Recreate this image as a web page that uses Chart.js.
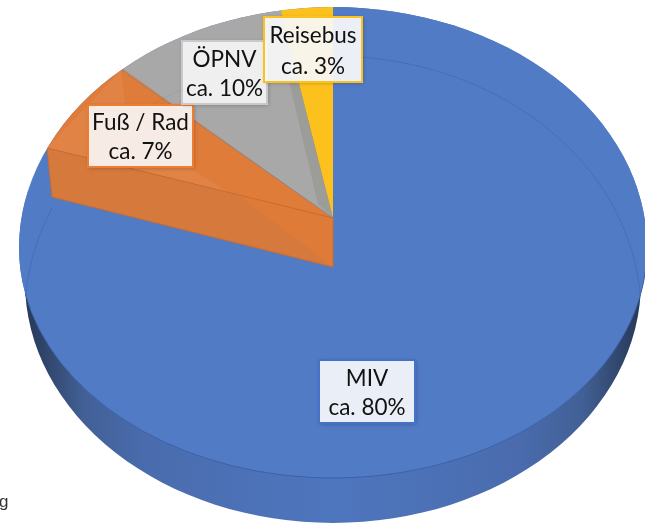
<!DOCTYPE html>
<html><head><meta charset="utf-8">
<style>html,body{margin:0;padding:0;background:#fff;overflow:hidden}canvas{display:block}</style>
<script src="https://cdn.jsdelivr.net/npm/chart.js@4"></script></head>
<body><canvas id="c" width="645" height="523"></canvas>
<script>
const categories = ['MIV', 'Fuß / Rad', 'ÖPNV', 'Reisebus'];
const shares = [80, 7, 10, 3];
const shareLabels = ['ca. 80%', 'ca. 7%', 'ca. 10%', 'ca. 3%'];
const sliceColors = ['#527BC6', '#E07C3A', '#A8A8A8', '#FDC11E'];
const boxFills = ['rgba(240,244,250,0.97)', 'rgba(250,241,235,0.97)', 'rgba(243,243,243,0.97)', 'rgba(255,255,255,0.9)'];
const boxBorders = ['#4472C4', '#ED7D31', '#C9C9C9', '#FDC11E'];
const boxRects = [[319,360,96,63],[88,105,105,62],[182,41,85,63],[264,17,98,65]];

const rimX = 333, rimY = 248, rimRx = 314, rimTop = 241, rimBot = 230;
function rimPath(ctx){
  ctx.beginPath();
  ctx.ellipse(rimX, rimY, rimRx, rimTop, 0, Math.PI, 2*Math.PI);
  ctx.ellipse(rimX, rimY, rimRx, rimBot, 0, 0, Math.PI);
  ctx.closePath();
}
function poly(ctx, pts, fill){
  ctx.beginPath();
  pts.forEach((p,i)=> i ? ctx.lineTo(p[0],p[1]) : ctx.moveTo(p[0],p[1]));
  ctx.closePath(); ctx.fillStyle = fill; ctx.fill();
}
function drawArc(ctx, arc, cx, cy, sx, sy){
  ctx.save();
  ctx.translate(cx, cy); ctx.scale(sx, sy); ctx.translate(-arc.x, -arc.y);
  arc.draw(ctx);
  ctx.restore();
}
const piePlugin = {
  id: 'tiltedPie',
  beforeDatasetDraw(chart, args){
    const ctx = chart.ctx;
    const arcs = chart.getDatasetMeta(args.index).data;
    const R = arcs[0].outerRadius;
    ctx.save();
    // side wall
    const g = ctx.createLinearGradient(25,0,641,0);
    g.addColorStop(0,'#27395A'); g.addColorStop(0.03,'#2F4468'); g.addColorStop(0.095,'#426096');
    g.addColorStop(0.2,'#4A6CAE'); g.addColorStop(0.5,'#4E76BE'); g.addColorStop(0.8,'#4A6CAE');
    g.addColorStop(0.905,'#426096'); g.addColorStop(0.97,'#2F4468'); g.addColorStop(1,'#27395A');
    ctx.beginPath(); ctx.ellipse(333, 282, 308, 241, 0, 0, Math.PI); ctx.closePath();
    ctx.fillStyle = g; ctx.fill();
    // top face
    rimPath(ctx); ctx.fillStyle = sliceColors[0]; ctx.fill();
    ctx.save(); rimPath(ctx); ctx.clip();
    drawArc(ctx, arcs[0], 333, 267, 420/R, 322/R);
    // orange cut wall
    poly(ctx, [[47,148],[333,218],[333,267],[52,197]], '#D5793C');
    poly(ctx, [[235,193],[333,218],[333,267]], '#DF7B38');
    // recessed slices
    drawArc(ctx, arcs[1], 333, 218, 400/R, 302/R);
    drawArc(ctx, arcs[2], 333, 218, 400/R, 302/R);
    poly(ctx, [[47,148],[121,70],[125,105],[193,170],[227,192]], 'rgba(255,255,255,0.06)');
    poly(ctx, [[288,77],[302,77],[333,218],[318,204]], 'rgba(110,110,90,0.2)');
    drawArc(ctx, arcs[3], 333, 218, 400/R, 302/R);
    ctx.strokeStyle = '#C96C2E'; ctx.lineWidth = 1;
    ctx.beginPath(); ctx.moveTo(47,148); ctx.lineTo(333,218); ctx.moveTo(52,197); ctx.lineTo(333,267); ctx.lineTo(333,218); ctx.moveTo(47,148); ctx.lineTo(52,197); ctx.stroke();
    ctx.strokeStyle = 'rgba(130,130,130,0.6)';
    ctx.beginPath(); ctx.moveTo(121,70); ctx.lineTo(333,218); ctx.stroke();
    // faint inner rim
    ctx.strokeStyle = 'rgba(62,100,175,0.55)';
    ctx.beginPath(); ctx.ellipse(333, 313, 308, 257, 0, Math.PI*1.5, 2*Math.PI); ctx.stroke();
    ctx.beginPath(); ctx.ellipse(333, 313, 308, 257, 0, Math.PI, Math.PI*1.135); ctx.stroke();
    ctx.strokeStyle = 'rgba(90,90,90,0.10)';
    ctx.beginPath(); ctx.ellipse(333, 313, 308, 257, 0, Math.PI*1.2, Math.PI*1.5); ctx.stroke();
    ctx.restore();
    // lower rim line
    ctx.strokeStyle = '#3C62A8'; ctx.lineWidth = 1;
    ctx.beginPath(); ctx.ellipse(rimX, rimY, rimRx, rimBot, 0, 0.08, Math.PI-0.2); ctx.stroke();
    ctx.restore();
    return false;
  },
  afterDatasetsDraw(chart){
    const ctx = chart.ctx;
    ctx.save();
    categories.forEach((name,i)=>{
      const [x,y,w,h] = boxRects[i];
      ctx.save();
      ctx.shadowColor = 'rgba(0,0,0,0.28)'; ctx.shadowBlur = 4; ctx.shadowOffsetX = 1; ctx.shadowOffsetY = 1;
      ctx.fillStyle = boxFills[i]; ctx.fillRect(x,y,w,h);
      ctx.restore();
      ctx.strokeStyle = boxBorders[i]; ctx.lineWidth = 2; ctx.strokeRect(x,y,w,h);
      ctx.fillStyle = '#111'; ctx.font = '22.5px Lato'; ctx.textAlign = 'center'; ctx.textBaseline = 'middle';
      ctx.fillText(name, x+w/2, y+h*0.29);
      ctx.fillText(shareLabels[i], x+w/2, y+h*0.76);
    });
    ctx.fillStyle = '#333'; ctx.font = '17px "Liberation Sans"'; ctx.textAlign = 'left'; ctx.textBaseline = 'alphabetic';
    ctx.fillText('g', -1, 507);
    ctx.restore();
  }
};
new Chart(document.getElementById('c'), {
  type: 'pie',
  data: { labels: categories, datasets: [{ data: shares, backgroundColor: sliceColors, borderWidth: 0 }] },
  options: { responsive:false, animation:false, layout:{padding:0},
    plugins:{ legend:{display:false}, tooltip:{enabled:false} } },
  plugins: [piePlugin]
});
</script></body></html>
